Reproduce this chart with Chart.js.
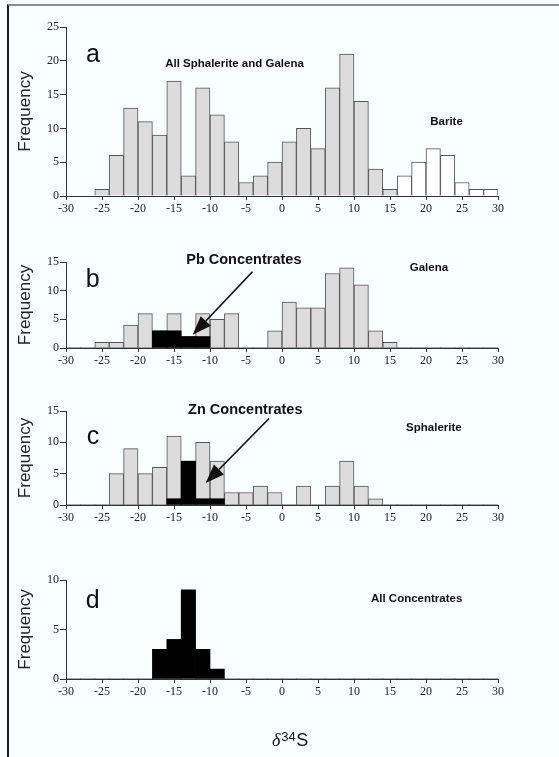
<!DOCTYPE html>
<html>
<head>
<meta charset="utf-8">
<script src="https://cdn.jsdelivr.net/npm/chart.js@4.4.1/dist/chart.umd.min.js"></script>
<style>
  html, body { margin: 0; padding: 0; background: #f8fdfd; }
  #page { position: relative; width: 559px; height: 757px; overflow: hidden; background: #f8fdfd; }
  #frame { position: absolute; left: 7px; top: 4px; right: -4px; bottom: -10px; border-top: 2px solid #8c8c8c; border-left: 2px solid #1a1a1a; }
  canvas { position: absolute; left: 0; }
</style>
</head>
<body>
<div id="page">
  <div id="frame"></div>
  <canvas id="panelA" width="559" height="221" style="top:0px"></canvas>
  <canvas id="panelB" width="559" height="133" style="top:240px"></canvas>
  <canvas id="panelC" width="559" height="140" style="top:390px"></canvas>
  <canvas id="panelD" width="559" height="197" style="top:560px"></canvas>
</div>
<script>
// d34S bins, 2 permil wide, centres from -29 to 29
const binCenters = [-29, -27, -25, -23, -21, -19, -17, -15, -13, -11, -9, -7, -5, -3, -1,
                    1, 3, 5, 7, 9, 11, 13, 15, 17, 19, 21, 23, 25, 27, 29];

// frequencies per bin
const allSulfides = [0, 0, 1, 6, 13, 11, 9, 17, 3, 16, 12, 8, 2, 3, 5, 8, 10, 7, 16, 21, 14, 4, 1, 0, 0, 0, 0, 0, 0, 0];
const barite      = [0, 0, 0, 0, 0, 0, 0, 0, 0, 0, 0, 0, 0, 0, 0, 0, 0, 0, 0, 0, 0, 0, 0, 3, 5, 7, 6, 2, 1, 1];
const galena      = [0, 0, 1, 1, 4, 6, 3, 6, 2, 6, 5, 6, 0, 0, 3, 8, 7, 7, 13, 14, 11, 3, 1, 0, 0, 0, 0, 0, 0, 0];
const pbConc      = [0, 0, 0, 0, 0, 0, 3, 3, 2, 2, 0, 0, 0, 0, 0, 0, 0, 0, 0, 0, 0, 0, 0, 0, 0, 0, 0, 0, 0, 0];
const sphalerite  = [0, 0, 0, 5, 9, 5, 6, 11, 1, 10, 7, 2, 2, 3, 2, 0, 3, 0, 3, 7, 3, 1, 0, 0, 0, 0, 0, 0, 0, 0];
const znConc      = [0, 0, 0, 0, 0, 0, 0, 1, 7, 1, 1, 0, 0, 0, 0, 0, 0, 0, 0, 0, 0, 0, 0, 0, 0, 0, 0, 0, 0, 0];
const allConc     = [0, 0, 0, 0, 0, 0, 3, 4, 9, 3, 1, 0, 0, 0, 0, 0, 0, 0, 0, 0, 0, 0, 0, 0, 0, 0, 0, 0, 0, 0];

const xTicksMin = -30;
const xTicksMax = 30;

const SANS = '"Liberation Sans", Arial, sans-serif';
const SERIF = '"Liberation Serif", "Times New Roman", serif';
const GREY = '#dcdcdc';
const EDGE = '#555555';
const TICK_FONT = { family: SERIF, size: 12 };

Chart.defaults.font.family = SERIF;
Chart.defaults.font.size = 12;
Chart.defaults.color = '#222';

// letters, labels and arrows placed in data coordinates
const panelNotes = {
  id: 'panelNotes',
  afterDraw(chart, args, opts) {
    const { ctx, scales: { x, y } } = chart;
    ctx.save();
    ctx.fillStyle = '#111';
    ctx.strokeStyle = '#111';
    ctx.textAlign = 'center';
    ctx.textBaseline = 'alphabetic';
    (opts.labels || []).forEach(l => {
      ctx.font = l.font;
      ctx.fillText(l.text, x.getPixelForValue(l.x), y.getPixelForValue(l.y));
    });

    if (opts.arrow) {
      const x0 = x.getPixelForValue(opts.arrow.from[0]);
      const y0 = y.getPixelForValue(opts.arrow.from[1]);
      const x1 = x.getPixelForValue(opts.arrow.to[0]);
      const y1 = y.getPixelForValue(opts.arrow.to[1]);
      const ang = Math.atan2(y1 - y0, x1 - x0);
      const headLen = 19, headHalf = 7;
      const bx = x1 - headLen * Math.cos(ang);
      const by = y1 - headLen * Math.sin(ang);
      ctx.lineWidth = 1.7;
      ctx.beginPath();
      ctx.moveTo(x0, y0);
      ctx.lineTo(bx, by);
      ctx.stroke();
      ctx.beginPath();
      ctx.moveTo(x1, y1);
      ctx.lineTo(bx + headHalf * Math.sin(ang), by - headHalf * Math.cos(ang));
      ctx.lineTo(bx - headHalf * Math.sin(ang), by + headHalf * Math.cos(ang));
      ctx.closePath();
      ctx.fill();
    }

    // delta 34 S under the last panel
    if (opts.axisTitle) {
      ctx.textAlign = 'left';
      let px = x.getPixelForValue(-1.4);
      const py = chart.chartArea.bottom + 67;
      ctx.font = 'italic 18px ' + SERIF;
      ctx.fillText('\u03B4', px, py);
      px += ctx.measureText('\u03B4').width + 1;
      ctx.font = '13px ' + SANS;
      ctx.fillText('34', px, py - 5);
      px += ctx.measureText('34').width + 0.5;
      ctx.font = '18px ' + SANS;
      ctx.fillText('S', px, py);
    }
    ctx.restore();
  }
};

function bars(values, fill, border, order) {
  return {
    data: binCenters.map((x, i) => ({ x, y: values[i] })),
    backgroundColor: fill,
    borderColor: border || fill,
    borderWidth: border ? 1 : 0,
    borderSkipped: 'start',
    grouped: false,
    barPercentage: 1,
    categoryPercentage: 1,
    order: order
  };
}

function makePanel(id, cfg) {
  return new Chart(document.getElementById(id), {
    type: 'bar',
    data: { datasets: cfg.datasets },
    options: {
      responsive: false,
      animation: false,
      layout: { padding: { left: 10, right: 61, top: cfg.padTop, bottom: cfg.padBottom || 0 } },
      plugins: {
        legend: { display: false },
        tooltip: { enabled: false },
        panelNotes: cfg.notes
      },
      scales: {
        x: {
          type: 'linear',
          min: xTicksMin,
          max: xTicksMax,
          offset: false,
          z: 1,
          afterFit(scale) { scale.height = 25; },
          grid: { offset: false, drawOnChartArea: false, drawTicks: true, tickLength: 4, color: '#333' },
          border: { display: true, color: '#333', width: 1 },
          ticks: { stepSize: 5, autoSkip: false, maxRotation: 0, padding: 2, color: '#222', font: TICK_FONT }
        },
        y: {
          min: 0,
          max: cfg.yMax,
          afterFit(scale) { scale.width = 56; },
          grid: { drawOnChartArea: false, drawTicks: true, tickLength: 6, color: '#333' },
          border: { display: true, color: '#333', width: 1 },
          ticks: { stepSize: 5, padding: 1, color: '#222', font: TICK_FONT },
          title: {
            display: true,
            text: 'Frequency',
            color: '#222',
            font: { family: SANS, size: 17 },
            padding: { top: 5, bottom: 0 }
          }
        }
      }
    },
    plugins: [panelNotes]
  });
}

const LETTER = '25px ' + SANS;
const SMALL_BOLD = 'bold 11.5px ' + SANS;
const BIG_BOLD = 'bold 14.5px ' + SANS;

makePanel('panelA', {
  padTop: 27,
  yMax: 25,
  datasets: [
    bars(allSulfides, GREY, EDGE, 1),
    bars(barite, '#ffffff', EDGE, 1)
  ],
  notes: {
    labels: [
      { text: 'a', x: -26.25, y: 19.8, font: LETTER },
      { text: 'All Sphalerite and Galena', x: -6.6, y: 19.1, font: SMALL_BOLD },
      { text: 'Barite', x: 22.85, y: 10.5, font: SMALL_BOLD }
    ]
  }
});

makePanel('panelB', {
  padTop: 22,
  yMax: 15,
  datasets: [
    bars(pbConc, '#000000', null, 0),
    bars(galena, GREY, EDGE, 1)
  ],
  notes: {
    labels: [
      { text: 'b', x: -26.3, y: 10.66, font: LETTER },
      { text: 'Pb Concentrates', x: -5.3, y: 14.6, font: BIG_BOLD },
      { text: 'Galena', x: 20.4, y: 13.35, font: SMALL_BOLD }
    ],
    arrow: { from: [-4.1, 13.3], to: [-12.4, 2.3] }
  }
});

makePanel('panelC', {
  padTop: 21,
  yMax: 15,
  datasets: [
    bars(znConc, '#000000', null, 0),
    bars(sphalerite, GREY, EDGE, 1)
  ],
  notes: {
    labels: [
      { text: 'c', x: -26.25, y: 9.7, font: LETTER },
      { text: 'Zn Concentrates', x: -5.1, y: 14.5, font: BIG_BOLD },
      { text: 'Sphalerite', x: 21.1, y: 11.8, font: SMALL_BOLD }
    ],
    arrow: { from: [-1.8, 13.8], to: [-10.6, 3.5] }
  }
});

makePanel('panelD', {
  padTop: 20,
  padBottom: 53,
  yMax: 10,
  datasets: [
    bars(allConc, '#000000', null, 0)
  ],
  notes: {
    labels: [
      { text: 'd', x: -26.3, y: 7.2, font: LETTER },
      { text: 'All Concentrates', x: 18.7, y: 7.75, font: 'bold 11.5px ' + SANS }
    ],
    axisTitle: true
  }
});
</script>
</body>
</html>
